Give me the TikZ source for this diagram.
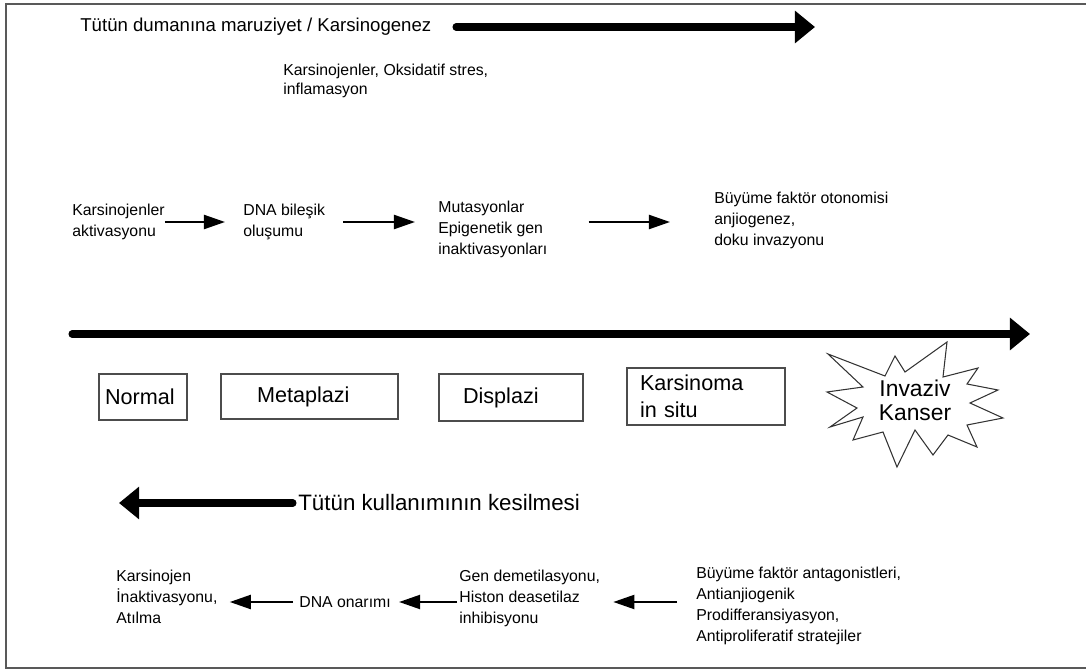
\documentclass[tikz,border=0pt]{standalone}
\usepackage{fontspec}
\setmainfont{Liberation Sans}
\usetikzlibrary{arrows.meta}
\begin{document}
\begin{tikzpicture}[x=0.02cm,y=-0.02cm,
  frameline/.style={draw=black!65,line width=0.85pt},
  titletext/.style={font=\fontsize{10.6}{13}\selectfont,inner sep=0pt,anchor=west},
  bigtext/.style={font=\fontsize{12.7}{15}\selectfont,inner sep=0pt,anchor=west},
  sm/.style={font=\fontsize{9}{12}\selectfont,align=left,inner sep=0pt,anchor=west},
  sarr/.style={-{Triangle[length=12pt,width=8pt]},line width=1.2pt},
  barr/.style={-{Triangle[length=11.5pt,width=18pt]},line width=4pt,line cap=round},
  stage/.style={draw=black!70,line width=0.85pt,font=\fontsize{12.3}{15.3}\selectfont,
    align=left,inner ysep=0pt},
  starline/.style={draw=black!80,line width=0.6pt,line join=miter}
]
\useasboundingbox (0,0) rectangle (1086,669);
% frame
\draw[frameline] (1095,4) -- (6,4) -- (6,668) -- (1095,668);

% title arrow
\node[titletext] (tit) at (80,27) {Tütün dumanına maruziyet / Karsinogenez};
\coordinate (t1s) at (456,27);
\coordinate (t1e) at (815,27);
\draw[barr] (t1s) -- (t1e);

\node[sm,font=\fontsize{9}{11}\selectfont] (ox) at (283,81) {Karsinojenler, Oksidatif stres,\\inflamasyon};

% row 2
\node[sm] (ka) at (72,222) {Karsinojenler\\aktivasyonu};
\node[sm] (dna) at (243,222) {DNA bileşik\\oluşumu};
\node[sm] (mut) at (438,229) {Mutasyonlar\\Epigenetik gen\\inaktivasyonları};
\node[sm] (bfo) at (714,220) {Büyüme faktör otonomisi\\anjiogenez,\\doku invazyonu};

\draw[sarr,shorten >=0.36cm] (ka.east) -- (dna.west);
\draw[sarr,shorten <=0.36cm,shorten >=0.46cm] (dna.east) -- (dna.east -| mut.west);
\draw[sarr,shorten <=0.82cm,shorten >=0.88cm] (mut.east |- dna.east) -- (bfo.west |- dna.east);

% main axis
\coordinate (m1) at (72,334);
\coordinate (m2) at (1030,334);
\draw[barr] (m1) -- (m2);

% stages
\node[stage,inner xsep=0.12cm,text width=1.52cm,minimum height=0.92cm] (nor) at (143,397) {Normal};
\node[stage,inner xsep=0.72cm,text width=2.1cm,minimum height=0.9cm] (met) at (309.5,396.5) {Metaplazi};
\node[stage,inner xsep=0.48cm,text width=1.92cm,minimum height=0.94cm] (dis) at (511,397.5) {Displazi};
\node[stage,inner xsep=0.26cm,text width=2.64cm,minimum height=1.14cm] (kis) at (706,396.5) {Karsinoma\\in situ};

% starburst
\draw[starline] (828,354) -- (885,376) -- (895,356) -- (905,372) -- (947,342) -- (943,377)
  -- (978,368) -- (967,384) -- (998,390) -- (970,403) -- (1003,418) -- (967,425)
  -- (977,447) -- (948,435) -- (933,455) -- (915,430) -- (897,467) -- (883,432)
  -- (853,440) -- (863,417) -- (830,427) -- (857,408) -- (827,392) -- (863,387) -- cycle;
\node[font=\fontsize{13}{13.6}\selectfont,align=center,inner sep=0pt] (inv) at (915,400) {Invaziv\\Kanser};

% cessation arrow
\node[bigtext] (kes) at (298,503) {Tütün kullanımının kesilmesi};
\coordinate (k1) at (119,503);
\draw[barr,shorten <=0.1cm] (kes.west) -- (k1);

% bottom row
\node[sm] (kar) at (116,597) {Karsinojen\\İnaktivasyonu,\\Atılma};
\node[sm] (dnao) at (299,602) {DNA onarımı};
\node[sm] (gen) at (459,598) {Gen demetilasyonu,\\Histon deasetilaz\\inhibisyonu};
\node[sm] (bfa) at (696,606) {Büyüme faktör antagonistleri,\\Antianjiogenik\\Prodifferansiyasyon,\\Antiproliferatif stratejiler};

\draw[sarr,shorten <=0.38cm,shorten >=0.26cm] (bfa.west |- dnao.west) -- (gen.east |- dnao.west);
\draw[sarr,shorten <=0.04cm,shorten >=0.16cm] (gen.west |- dnao.east) -- (dnao.east);
\draw[sarr,shorten <=0.12cm,shorten >=0.24cm] (dnao.west) -- (kar.east |- dnao.west);
\end{tikzpicture}
\end{document}
